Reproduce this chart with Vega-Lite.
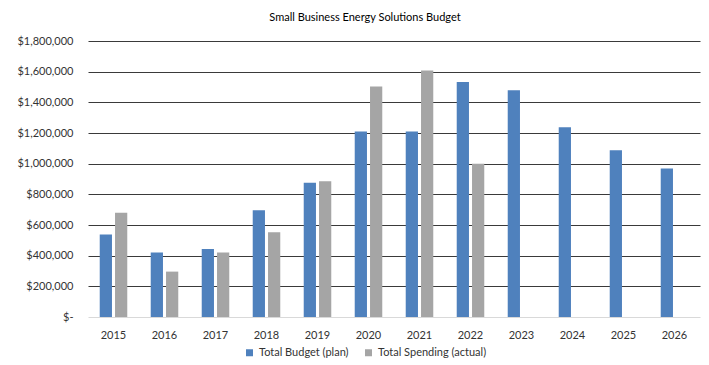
{
  "$schema": "https://vega.github.io/schema/vega-lite/v6.json",
  "autosize": {"type": "none"},
  "width": 612,
  "height": 276,
  "padding": {"left": 88, "top": 41, "right": 9, "bottom": 48},
  "background": "white",
  "title": {
    "text": "Small Business Energy Solutions Budget",
    "font": "Lato",
    "fontSize": 11,
    "fontWeight": "normal",
    "color": "#000000",
    "anchor": "middle",
    "dx": -29,
    "offset": 12
  },
  "data": {
    "values": [
      {"year": "2015", "series": "Total Budget (plan)", "value": 538000},
      {"year": "2015", "series": "Total Spending (actual)", "value": 680000},
      {"year": "2016", "series": "Total Budget (plan)", "value": 421000},
      {"year": "2016", "series": "Total Spending (actual)", "value": 296000},
      {"year": "2017", "series": "Total Budget (plan)", "value": 443000},
      {"year": "2017", "series": "Total Spending (actual)", "value": 421000},
      {"year": "2018", "series": "Total Budget (plan)", "value": 696000},
      {"year": "2018", "series": "Total Spending (actual)", "value": 552000},
      {"year": "2019", "series": "Total Budget (plan)", "value": 876000},
      {"year": "2019", "series": "Total Spending (actual)", "value": 885000},
      {"year": "2020", "series": "Total Budget (plan)", "value": 1210000},
      {"year": "2020", "series": "Total Spending (actual)", "value": 1504000},
      {"year": "2021", "series": "Total Budget (plan)", "value": 1210000},
      {"year": "2021", "series": "Total Spending (actual)", "value": 1608000},
      {"year": "2022", "series": "Total Budget (plan)", "value": 1532000},
      {"year": "2022", "series": "Total Spending (actual)", "value": 1000000},
      {"year": "2023", "series": "Total Budget (plan)", "value": 1478000},
      {"year": "2024", "series": "Total Budget (plan)", "value": 1237000},
      {"year": "2025", "series": "Total Budget (plan)", "value": 1088000},
      {"year": "2026", "series": "Total Budget (plan)", "value": 969000}
    ]
  },
  "mark": {"type": "bar"},
  "encoding": {
    "x": {
      "field": "year",
      "type": "nominal",
      "sort": null,
      "title": null,
      "scale": {"paddingInner": 0.46, "paddingOuter": 0.23},
      "axis": {
        "labelAngle": 0,
        "labelFont": "Lato",
        "labelFontSize": 11,
        "labelColor": "#333333",
        "labelPadding": 12,
        "ticks": false,
        "domain": false,
        "grid": false
      }
    },
    "xOffset": {
      "field": "series",
      "type": "nominal",
      "scale": {"domain": ["Total Budget (plan)", "Total Spending (actual)"], "paddingInner": 0.2, "paddingOuter": 0}
    },
    "y": {
      "field": "value",
      "type": "quantitative",
      "title": null,
      "scale": {"domain": [0, 1800000], "nice": false},
      "axis": {
        "values": [0, 200000, 400000, 600000, 800000, 1000000, 1200000, 1400000, 1600000, 1800000],
        "labelExpr": "datum.value == 0 ? '$-' : '$' + format(datum.value, ',')",
        "labelFont": "Lato",
        "labelFontSize": 11,
        "labelColor": "#333333",
        "labelPadding": 15,
        "ticks": false,
        "domain": false,
        "grid": true,
        "gridColor": {"expr": "datum.value == 0 ? '#d9d9d9' : '#3a3a3a'"},
        "gridWidth": 1
      }
    },
    "color": {
      "field": "series",
      "type": "nominal",
      "scale": {
        "domain": ["Total Budget (plan)", "Total Spending (actual)"],
        "range": ["#4F81BD", "#A5A5A5"]
      },
      "legend": {
        "title": null,
        "orient": "none",
        "direction": "horizontal",
        "legendX": 156,
        "legendY": 306,
        "symbolType": "square",
        "symbolSize": 49,
        "symbolStrokeWidth": 0,
        "labelFont": "Lato",
        "labelFontSize": 11,
        "labelColor": "#333333",
        "labelOffset": 4,
        "columnPadding": 14
      }
    }
  },
  "config": {
    "view": {"stroke": null}
  }
}
